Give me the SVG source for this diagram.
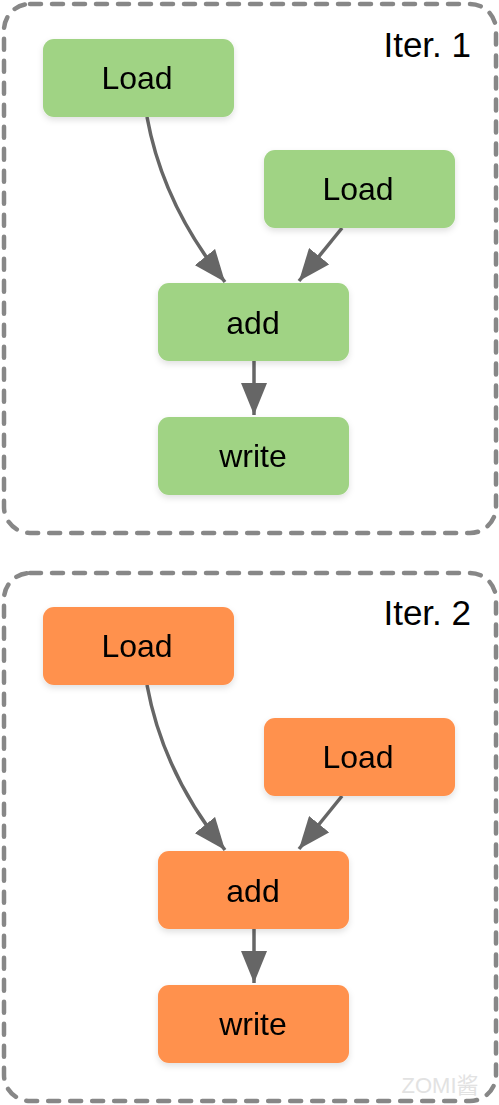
<svg xmlns="http://www.w3.org/2000/svg" width="499" height="1105" viewBox="0 0 499 1105">
<style>
.frame{fill:none;stroke:#878787;stroke-width:4.5;stroke-dasharray:11 11;stroke-linecap:round}
.g{fill:#A0D384}
.o{fill:#FF914D}
.lbl{font-family:"Liberation Sans",Arial,sans-serif;font-size:32px;fill:#000;text-anchor:middle}
.iter{font-family:"Liberation Sans",Arial,sans-serif;font-size:35px;fill:#000;text-anchor:end}
.edge{fill:none;stroke:#666;stroke-width:3.5}
</style>
<defs>
<marker id="ah" markerUnits="userSpaceOnUse" markerWidth="34" markerHeight="26" refX="32" refY="13" orient="auto" viewBox="0 0 34 26">
<path d="M0,0 L32,13 L0,26 Z" fill="#666"/>
</marker>
<filter id="sh" x="-10%" y="-10%" width="120%" height="130%">
<feDropShadow dx="0" dy="3" stdDeviation="3" flood-color="#000" flood-opacity="0.12"/>
</filter>
</defs>
<g id="iter1">
<rect class="frame" x="4" y="4" width="492" height="529" rx="26"/>
<text class="iter" x="471" y="57">Iter. 1</text>
</g>
<g id="iter2">
<rect class="frame" x="4" y="573" width="492" height="528" rx="26"/>
<text class="iter" x="471" y="625">Iter. 2</text>
</g>
<g id="connectors">
<path class="edge" d="M147,117 Q163,205 225,282" marker-end="url(#ah)"/>
<path class="edge" d="M342,228 L299,281" marker-end="url(#ah)"/>
<path class="edge" d="M254,361 L254,415" marker-end="url(#ah)"/>
<path class="edge" d="M147,685 Q163,773 225,850" marker-end="url(#ah)"/>
<path class="edge" d="M342,796 L299,849" marker-end="url(#ah)"/>
<path class="edge" d="M254,929 L254,983" marker-end="url(#ah)"/>
</g>
<g id="load1a" filter="url(#sh)"><rect class="g" x="43" y="39" width="191" height="78" rx="11"/><text class="lbl" x="137" y="89">Load</text></g>
<g id="load1b" filter="url(#sh)"><rect class="g" x="264" y="150" width="191" height="78" rx="11"/><text class="lbl" x="358" y="200">Load</text></g>
<g id="add1" filter="url(#sh)"><rect class="g" x="158" y="283" width="191" height="78" rx="11"/><text class="lbl" x="253" y="334">add</text></g>
<g id="write1" filter="url(#sh)"><rect class="g" x="158" y="417" width="191" height="78" rx="11"/><text class="lbl" x="253" y="467">write</text></g>
<g id="load2a" filter="url(#sh)"><rect class="o" x="43" y="607" width="191" height="78" rx="11"/><text class="lbl" x="137" y="657">Load</text></g>
<g id="load2b" filter="url(#sh)"><rect class="o" x="264" y="718" width="191" height="78" rx="11"/><text class="lbl" x="358" y="768">Load</text></g>
<g id="add2" filter="url(#sh)"><rect class="o" x="158" y="851" width="191" height="78" rx="11"/><text class="lbl" x="253" y="902">add</text></g>
<g id="write2" filter="url(#sh)"><rect class="o" x="158" y="985" width="191" height="78" rx="11"/><text class="lbl" x="253" y="1035">write</text></g>
<text x="440" y="1093" font-family="'Liberation Sans','Noto Sans CJK SC',sans-serif" font-size="22" fill="#E2E2E2" text-anchor="middle">ZOMI酱</text>
</svg>
